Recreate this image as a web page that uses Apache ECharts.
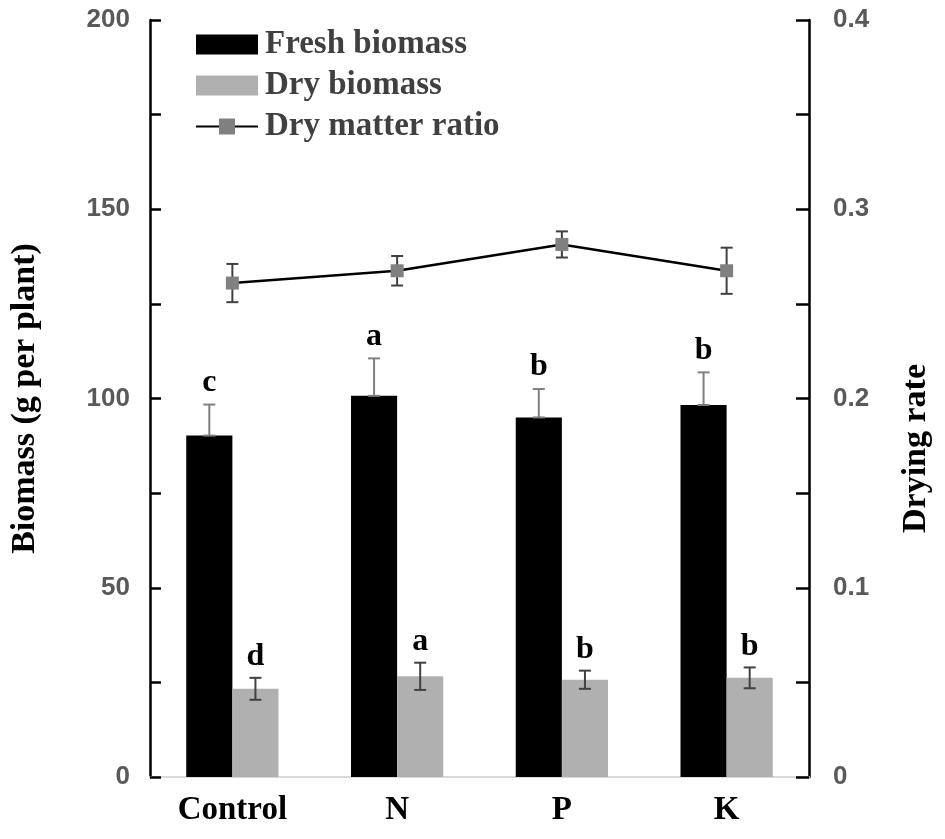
<!DOCTYPE html>
<html>
<head>
<meta charset="utf-8">
<script src="https://cdn.jsdelivr.net/npm/echarts@6/dist/echarts.min.js"></script>
<style>
  html, body { margin: 0; padding: 0; background: #fff; }
  #chart { width: 945px; height: 839px; }
</style>
</head>
<body>
<div id="chart"></div>
<script>
// 数据
var categories = ['Control', 'N', 'P', 'K'];
var freshBiomass = [90.2, 100.7, 95.0, 98.3];
var freshErr = [8.2, 9.9, 7.5, 8.6];
var dryBiomass = [23.3, 26.6, 25.7, 26.2];
var dryErr = [2.9, 3.6, 2.4, 2.75];
var dryMatterRatio = [0.261, 0.2675, 0.2814, 0.2675];
var ratioErr = [0.0101, 0.0078, 0.0069, 0.0122];
var freshLetters = ['c', 'a', 'b', 'b'];
var dryLetters = ['d', 'a', 'b', 'b'];

var serif = '"Liberation Serif", "Times New Roman", serif';
var sans = '"Liberation Sans", Arial, sans-serif';
var barPct = 0.28;

// 误差线数据 [类别, 下限, 上限, 字母]
function errData(vals, errs, upOnly, letters) {
    var arr = [];
    for (var i = 0; i < vals.length; i++) {
        arr.push([i, upOnly ? vals[i] : vals[i] - errs[i], vals[i] + errs[i], letters ? letters[i] : '']);
    }
    return arr;
}

// side: -1 左柱, 1 右柱, 0 居中
function errRender(side, color, capW, letterGap) {
    return function (params, api) {
        var band = api.size([1, 0])[0];
        var dx = side * band * barPct / 2;
        var lo = api.coord([api.value(0), api.value(1)]);
        var hi = api.coord([api.value(0), api.value(2)]);
        var x = lo[0] + dx;
        var style = { stroke: color, lineWidth: 2 };
        var children = [
            { type: 'line', shape: { x1: x, y1: lo[1], x2: x, y2: hi[1] }, style: style },
            { type: 'line', shape: { x1: x - capW, y1: lo[1], x2: x + capW, y2: lo[1] }, style: style },
            { type: 'line', shape: { x1: x - capW, y1: hi[1], x2: x + capW, y2: hi[1] }, style: style }
        ];
        var letter = api.value(3);
        if (letter) {
            children.push({
                type: 'text',
                style: {
                    text: letter, x: x, y: hi[1] - letterGap,
                    align: 'center', verticalAlign: 'bottom',
                    font: 'bold 32px ' + serif, fill: '#000'
                }
            });
        }
        return { type: 'group', children: children };
    };
}

var chart = echarts.init(document.getElementById('chart'));

var option = {
    animation: false,
    backgroundColor: '#fff',
    grid: { left: 150, right: 136, top: 20, bottom: 62 },
    legend: {
        orient: 'vertical',
        left: 190,
        top: 23,
        itemWidth: 62,
        itemHeight: 20,
        itemGap: 8,
        textStyle: { fontFamily: serif, fontWeight: 'bold', fontSize: 33, color: '#404040', padding: [0, 0, 0, 2] },
        data: [
            { name: 'Fresh biomass', icon: 'rect' },
            { name: 'Dry biomass', icon: 'rect' },
            { name: 'Dry matter ratio' }
        ]
    },
    xAxis: {
        type: 'category',
        data: categories,
        axisLine: { lineStyle: { color: '#d9d9d9', width: 2 } },
        axisTick: { show: false },
        axisLabel: { fontFamily: serif, fontWeight: 'bold', fontSize: 33, color: '#000', margin: 17 }
    },
    yAxis: [
        {
            type: 'value', min: 0, max: 200, interval: 50,
            name: 'Biomass (g per plant)', nameLocation: 'middle', nameGap: 108, nameRotate: 90,
            nameTextStyle: { fontFamily: serif, fontWeight: 'bold', fontSize: 34, color: '#000' },
            axisLine: { show: true, lineStyle: { color: '#000', width: 2.5 } },
            axisTick: { show: true, inside: true, length: 11, lineStyle: { color: '#000', width: 2.5 } },
            minorTick: { show: true, splitNumber: 2, length: 11, lineStyle: { color: '#000', width: 2.5 } },
            splitLine: { show: false },
            axisLabel: { fontFamily: sans, fontWeight: 'bold', fontSize: 26, color: '#595959', margin: 20 }
        },
        {
            type: 'value', min: 0, max: 0.4, interval: 0.1,
            name: 'Drying rate', nameLocation: 'middle', nameGap: 90, nameRotate: 90,
            nameTextStyle: {
                fontFamily: serif, fontWeight: 'bold', fontSize: 34, color: '#000',
                padding: [0, 100, 0, 0]
            },
            axisLine: { show: true, lineStyle: { color: '#000', width: 2.5 } },
            axisTick: { show: true, inside: true, length: 13, lineStyle: { color: '#000', width: 2.5 } },
            minorTick: { show: true, splitNumber: 2, length: 13, lineStyle: { color: '#000', width: 2.5 } },
            splitLine: { show: false },
            axisLabel: {
                fontFamily: sans, fontWeight: 'bold', fontSize: 26, color: '#595959', margin: 24,
                formatter: function (v) { return v === 0 ? '0' : v.toFixed(1); }
            }
        }
    ],
    series: [
        {
            name: 'Fresh biomass', type: 'bar', data: freshBiomass,
            barWidth: (barPct * 100) + '%', barGap: '0%',
            itemStyle: { color: '#000' }
        },
        {
            name: 'Dry biomass', type: 'bar', data: dryBiomass,
            barWidth: (barPct * 100) + '%', barGap: '0%',
            itemStyle: { color: '#b0b0b0' }
        },
        {
            name: 'Dry matter ratio', type: 'line', yAxisIndex: 1, data: dryMatterRatio,
            symbol: 'rect', symbolSize: 13,
            lineStyle: { color: '#000', width: 2.5 },
            itemStyle: { color: '#808080' },
            z: 5
        },
        {
            type: 'custom', renderItem: errRender(-1, '#808080', 6, 6),
            data: errData(freshBiomass, freshErr, true, freshLetters), z: 4
        },
        {
            type: 'custom', renderItem: errRender(1, '#404040', 6, 5),
            data: errData(dryBiomass, dryErr, false, dryLetters), z: 4
        },
        {
            type: 'custom', yAxisIndex: 1, renderItem: errRender(0, '#404040', 6, 0),
            data: errData(dryMatterRatio, ratioErr, false, null), z: 4
        }
    ]
};

chart.setOption(option);
</script>
</body>
</html>
